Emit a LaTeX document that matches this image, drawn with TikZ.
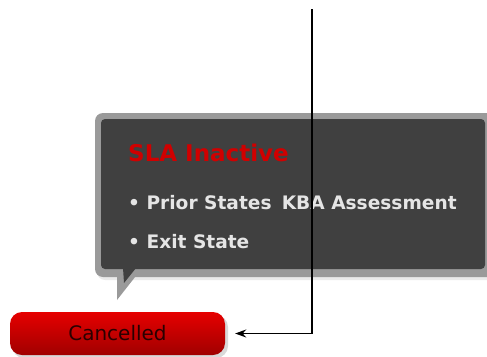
\documentclass[tikz,border=0pt]{standalone}
\usepackage{fontspec}
\setmainfont{DejaVu Sans}
\usetikzlibrary{arrows.meta}
\definecolor{calloutgray}{HTML}{9A9A9A}
\definecolor{calloutdark}{HTML}{404040}
\definecolor{titlered}{HTML}{D00000}
\definecolor{btntop}{HTML}{E60000}
\definecolor{btnbot}{HTML}{A00000}
\definecolor{btntext}{HTML}{2A0000}
\tikzset{
  calloutborder/.style={fill=calloutgray, draw=none},
  calloutbody/.style={fill=calloutdark, draw=none},
  titletext/.style={anchor=base west, inner sep=0pt, text=titlered, font=\bfseries\fontsize{23}{25}\selectfont},
  bullettext/.style={anchor=base west, inner sep=0pt, text=white!90!black, font=\bfseries\fontsize{18.6}{21}\selectfont},
  button/.style={rounded corners=12pt, top color=btntop, bottom color=btnbot, draw=none,
    minimum width=215pt, minimum height=43pt, text=btntext, font=\fontsize{20}{23}\selectfont},
  connector/.style={draw=black, line width=1.3pt, -{Stealth[length=11pt,width=8pt]}}
}
\begin{document}
\begin{tikzpicture}[x=1pt,y=-1pt]
\useasboundingbox (0,0) rectangle (487,356);
% shadow of callout
\fill[black!8, rounded corners=8pt] (97,116) rectangle (500,280);
% callout border with tail
\fill[calloutborder, rounded corners=8pt] (95,113) rectangle (500,277);
\fill[calloutborder] (117,272) -- (117,300) -- (139,272) -- cycle;
% callout body
\fill[calloutbody, rounded corners=4pt] (101,119) rectangle (485,269);
\fill[calloutbody] (123,268) -- (124,283) -- (136,268) -- cycle;
% texts
\node[titletext] (title) at (128,161) {SLA Inactive};
\node[bullettext] (prior) at (128,209) {• Prior States\hspace{0.55em}KBA Assessment};
\node[bullettext] (exit) at (128,248) {• Exit State};
% button
\fill[black!15, rounded corners=12pt] (12,315) rectangle (228,358);
\node[button] (cancel) at (117.5,333.5) {Cancelled};
% connector
\coordinate (top) at (312,9);
\draw[connector] (top) |- ([xshift=10pt]cancel.east);
\end{tikzpicture}
\end{document}
